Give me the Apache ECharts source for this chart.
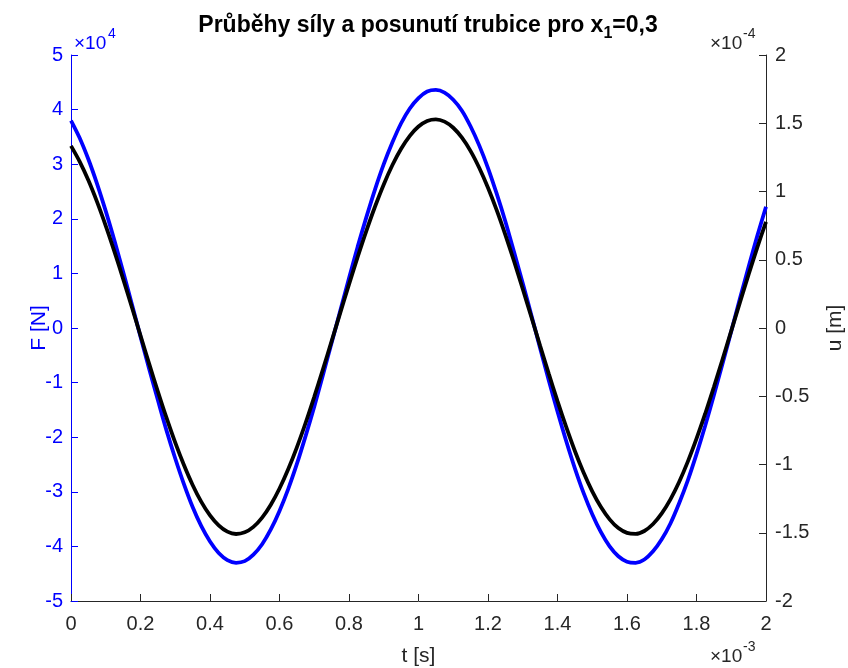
<!DOCTYPE html>
<html>
<head>
<meta charset="utf-8">
<script src="https://cdn.jsdelivr.net/npm/echarts@6/dist/echarts.min.js"></script>
<style>html,body{margin:0;padding:0;background:#fff;overflow:hidden}#c{width:848px;height:668px}</style>
</head>
<body>
<div id="c"></div>
<script>
// time in units of 1e-3 s
const tValues = [0,0.025,0.05,0.075,0.1,0.125,0.15,0.175,0.2,0.225,0.25,0.275,0.3,0.325,0.35,0.375,0.4,0.425,0.45,0.475,0.5,0.525,0.55,0.575,0.6,0.625,0.65,0.675,0.7,0.725,0.75,0.775,0.8,0.825,0.85,0.875,0.9,0.925,0.95,0.975,1.0,1.025,1.05,1.075,1.1,1.125,1.15,1.175,1.2,1.225,1.25,1.275,1.3,1.325,1.35,1.375,1.4,1.425,1.45,1.475,1.5,1.525,1.55,1.575,1.6,1.625,1.65,1.675,1.7,1.725,1.75,1.775,1.8,1.825,1.85,1.875,1.9,1.925,1.95,1.975,2.0];
// force F in units of 1e4 N
const forceValues = [3.80,3.48,3.09,2.64,2.14,1.60,1.03,0.44,-0.16,-0.75,-1.32,-1.88,-2.39,-2.86,-3.28,-3.63,-3.91,-4.12,-4.25,-4.30,-4.27,-4.15,-3.96,-3.69,-3.35,-2.95,-2.49,-1.98,-1.44,-0.86,-0.27,0.32,0.91,1.49,2.03,2.54,3.00,3.40,3.75,4.02,4.21,4.33,4.36,4.31,4.18,3.98,3.69,3.34,2.93,2.46,1.95,1.39,0.82,0.23,-0.37,-0.96,-1.53,-2.07,-2.57,-3.02,-3.41,-3.74,-4.00,-4.18,-4.28,-4.30,-4.24,-4.09,-3.87,-3.58,-3.21,-2.79,-2.31,-1.79,-1.23,-0.65,-0.06,0.54,1.12,1.69,2.22];
// displacement u in units of 1e-4 m
const dispValues = [1.334,1.219,1.082,0.924,0.749,0.560,0.360,0.154,-0.055,-0.263,-0.465,-0.659,-0.840,-1.004,-1.150,-1.274,-1.373,-1.446,-1.492,-1.509,-1.497,-1.457,-1.389,-1.295,-1.176,-1.035,-0.874,-0.696,-0.504,-0.303,-0.096,0.113,0.320,0.521,0.712,0.890,1.052,1.194,1.313,1.408,1.476,1.517,1.529,1.512,1.467,1.394,1.296,1.172,1.027,0.863,0.682,0.489,0.286,0.079,-0.130,-0.336,-0.536,-0.725,-0.901,-1.059,-1.197,-1.312,-1.402,-1.466,-1.501,-1.508,-1.487,-1.436,-1.358,-1.255,-1.128,-0.979,-0.811,-0.628,-0.433,-0.229,-0.021,0.188,0.393,0.591,0.778];

const FONT = '"Liberation Sans", Arial, Helvetica, sans-serif';
const GRAY = '#262626';
const BLUE = '#0000ff';
const fmt = v => String(+v.toFixed(2));

const chart = echarts.init(document.getElementById('c'), null, {renderer: 'canvas'});
chart.setOption({
  animation: false,
  backgroundColor: '#fff',
  title: {
    text: '{a|Průběhy síly a posunutí trubice pro x}{s|1}{a|=0,3}',
    left: 423, top: 9, textAlign: 'center',
    textStyle: {
      rich: {
        a: {fontFamily: FONT, fontWeight: 'bold', fontSize: 23, color: '#000', verticalAlign: 'top', lineHeight: 28},
        s: {fontFamily: FONT, fontWeight: 'bold', fontSize: 16, color: '#000', verticalAlign: 'top', lineHeight: 28, padding: [12, 0, 0, 0]}
      }
    }
  },
  grid: {left: 71, right: 82, top: 55, bottom: 67, containLabel: false, outerBoundsMode: 'none'},
  xAxis: {
    type: 'value', min: 0, max: 2, interval: 0.2,
    name: 't [s]', nameLocation: 'middle', nameGap: 45, nameMoveOverlap: false,
    nameTextStyle: {fontFamily: FONT, fontSize: 21, color: GRAY},
    axisLine: {show: true, onZero: false, lineStyle: {color: GRAY, width: 1}},
    axisTick: {show: true, inside: true, length: 7, lineStyle: {color: GRAY}},
    axisLabel: {fontFamily: FONT, fontSize: 20, color: GRAY, margin: 13, formatter: fmt},
    splitLine: {show: false}
  },
  yAxis: [{
    type: 'value', min: -5, max: 5, interval: 1, position: 'left',
    name: 'F [N]', nameLocation: 'middle', nameGap: 21, nameRotate: 90, nameMoveOverlap: false,
    nameTextStyle: {fontFamily: FONT, fontSize: 21, color: BLUE},
    axisLine: {show: true, lineStyle: {color: BLUE, width: 1}},
    axisTick: {show: true, inside: true, length: 7, lineStyle: {color: BLUE}},
    axisLabel: {fontFamily: FONT, fontSize: 20, color: BLUE, margin: 8, formatter: fmt},
    splitLine: {show: false}
  }, {
    type: 'value', min: -2, max: 2, interval: 0.5, position: 'right',
    name: 'u [m]', nameLocation: 'middle', nameGap: 59, nameRotate: 90, nameMoveOverlap: false,
    nameTextStyle: {fontFamily: FONT, fontSize: 21, color: GRAY},
    axisLine: {show: true, lineStyle: {color: GRAY, width: 1}},
    axisTick: {show: true, inside: true, length: 7, lineStyle: {color: GRAY}},
    axisLabel: {fontFamily: FONT, fontSize: 20, color: GRAY, margin: 9, formatter: fmt},
    splitLine: {show: false}
  }],
  series: [{
    type: 'line', yAxisIndex: 0, smooth: 0.3, showSymbol: false,
    data: tValues.map((t, i) => [t, forceValues[i]]),
    lineStyle: {color: BLUE, width: 3.8}, z: 2
  }, {
    type: 'line', yAxisIndex: 1, smooth: 0.3, showSymbol: false,
    data: tValues.map((t, i) => [t, dispValues[i]]),
    lineStyle: {color: '#000', width: 3.8}, z: 3
  }],
  graphic: [
    {type: 'text', left: 74, top: 34, style: {text: '×10', font: '19px ' + FONT, fill: BLUE}},
    {type: 'text', left: 108, top: 27, style: {text: '4', font: '14px ' + FONT, fill: BLUE}},
    {type: 'text', left: 710, top: 34, style: {text: '×10', font: '19px ' + FONT, fill: GRAY}},
    {type: 'text', left: 743, top: 27, style: {text: '-4', font: '14px ' + FONT, fill: GRAY}},
    {type: 'text', left: 710, top: 647, style: {text: '×10', font: '19px ' + FONT, fill: GRAY}},
    {type: 'text', left: 743, top: 640, style: {text: '-3', font: '14px ' + FONT, fill: GRAY}}
  ]
});
</script>
</body>
</html>
